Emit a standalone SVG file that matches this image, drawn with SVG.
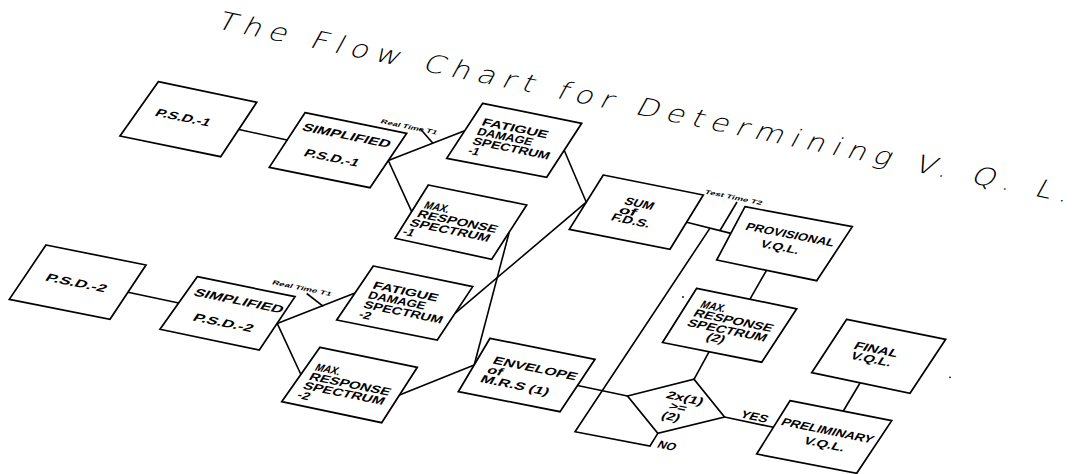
<svg xmlns="http://www.w3.org/2000/svg" width="1083" height="474" viewBox="0 0 1083 474">
<style>
.box{fill:#fff;stroke:#000;stroke-width:1.7;stroke-linejoin:miter}
.ln{fill:none;stroke:#000;stroke-width:1.6}
.t{font-family:"Liberation Sans",Arial,sans-serif;font-size:10px;font-weight:bold;fill:#000}
.c{text-anchor:middle}
.s{font-family:"Liberation Sans",Arial,sans-serif;font-size:5.5px;font-weight:bold;fill:#000;text-anchor:middle}
.title{font-family:"DejaVu Sans","Liberation Sans",sans-serif;font-weight:200;font-size:23px;fill:#000}
</style>
<rect width="1083" height="474" fill="#fff"/>
<g id="title">
<text class="title" transform="matrix(1.274 0.261 -0.55 1 215 28)" textLength="668" lengthAdjust="spacing">The Flow Chart for Determining V. Q. L.</text>
</g>
<g id="connectors">
<path class="ln" d="M239 129.5L287 140"/>
<path class="ln" d="M388.3 160.5L464.7 130.8"/>
<path class="ln" d="M388.3 160.5L411.7 211.7"/>
<path class="ln" d="M564.2 150.3L586.3 202.2"/>
<path class="ln" d="M455 313.4L586.3 202.2"/>
<path class="ln" d="M509.2 232.2L474.2 365"/>
<path class="ln" d="M399.5 395L474.2 365"/>
<path class="ln" d="M128 292.2L178.7 303"/>
<path class="ln" d="M277.2 323.4L355 293"/>
<path class="ln" d="M277.2 323.4L300.9 374.5"/>
<path class="ln" d="M686.7 222.2L730.9 233.4"/>
<path class="ln" d="M710 228.1L575 431.7L650 446L657.8 433.3"/>
<path class="ln" d="M766.5 270.3L750 299.2"/>
<path class="ln" d="M709 351.8L694 379.3"/>
<path class="ln" d="M577.5 385.5L627.5 396"/>
<path class="ln" d="M724.5 417L773.3 427.3"/>
<path class="ln" d="M860 383L843.3 411"/>
<path class="ln" d="M420 128.5L432.7 143"/>
<path class="ln" d="M306.7 293.5L323.3 306.3"/>
<path class="ln" d="M737 202L720 230.5"/>
<text class="s" transform="matrix(0.98 0.2 -0.6 1 408 128.8)" textLength="57" lengthAdjust="spacingAndGlyphs">Real Time T1</text>
<text class="s" transform="matrix(0.98 0.2 -0.6 1 300.8 290)" textLength="60" lengthAdjust="spacingAndGlyphs">Real Time T1</text>
<text class="s" transform="matrix(0.98 0.2 -0.6 1 732.5 199.2)" textLength="58" lengthAdjust="spacingAndGlyphs">Test Time T2</text>
<text class="t c" transform="matrix(0.98 0.2 -0.6 1 752.5 420)" textLength="27" lengthAdjust="spacingAndGlyphs">YES</text>
<text class="t c" transform="matrix(0.98 0.2 -0.6 1 665 449)" textLength="18" lengthAdjust="spacingAndGlyphs">NO</text>
</g>
<g id="psd1">
<polygon class="box" points="158.3,81.7 256.7,102.3 220.7,156.7 120,136"/>
<text class="t c" transform="matrix(0.98 0.2 -0.68 1 181 121)" textLength="55" lengthAdjust="spacingAndGlyphs">P.S.D.-1</text>
</g>
<g id="simp1">
<polygon class="box" points="305,112.7 406.7,133.3 370,187.7 269.3,167.3"/>
<text class="t c" transform="matrix(0.98 0.2 -0.65 1 344.5 139)" textLength="89" lengthAdjust="spacingAndGlyphs">SIMPLIFIED</text>
<text class="t c" transform="matrix(0.98 0.2 -0.65 1 329.7 161.2)" textLength="55" lengthAdjust="spacingAndGlyphs">P.S.D.-1</text>
</g>
<g id="fds1">
<polygon class="box" points="482.7,103.3 581.7,123.3 546.7,177.3 446.7,158.3"/>
<text class="t" transform="matrix(0.98 0.2 -0.5 1 480.7 125)" textLength="67" lengthAdjust="spacingAndGlyphs">FATIGUE</text>
<text class="t" transform="matrix(0.98 0.2 -0.5 1 476.1 134.5)" textLength="56" lengthAdjust="spacingAndGlyphs">DAMAGE</text>
<text class="t" transform="matrix(0.98 0.2 -0.5 1 471.5 144)" textLength="78" lengthAdjust="spacingAndGlyphs">SPECTRUM</text>
<text class="t" transform="matrix(0.98 0.2 -0.5 1 466.9 153.5)" textLength="11" lengthAdjust="spacingAndGlyphs">-1</text>
</g>
<g id="mrs1">
<polygon class="box" points="428.3,185 526.7,205 491.7,259.3 395,238.3"/>
<text class="t" transform="matrix(0.98 0.2 -0.6 1 423 208)" textLength="25" lengthAdjust="spacingAndGlyphs">MAX.</text>
<text class="t" transform="matrix(0.98 0.2 -0.6 1 416 216.8)" textLength="81" lengthAdjust="spacingAndGlyphs">RESPONSE</text>
<text class="t" transform="matrix(0.98 0.2 -0.6 1 408.5 225.6)" textLength="81" lengthAdjust="spacingAndGlyphs">SPECTRUM</text>
<text class="t" transform="matrix(0.98 0.2 -0.6 1 401.5 234.4)" textLength="11" lengthAdjust="spacingAndGlyphs">-1</text>
</g>
<g id="psd2">
<polygon class="box" points="46,245 146,265 110,319.3 9.3,299.3"/>
<text class="t c" transform="matrix(0.98 0.2 -0.68 1 74.2 286.3)" textLength="61" lengthAdjust="spacingAndGlyphs">P.S.D.-2</text>
</g>
<g id="simp2">
<polygon class="box" points="197.3,276.7 295,296.7 259.3,350 160,329.3"/>
<text class="t c" transform="matrix(0.98 0.2 -0.68 1 236.7 304.2)" textLength="90" lengthAdjust="spacingAndGlyphs">SIMPLIFIED</text>
<text class="t c" transform="matrix(0.98 0.2 -0.68 1 221.2 326.2)" textLength="60" lengthAdjust="spacingAndGlyphs">P.S.D.-2</text>
</g>
<g id="fds2">
<polygon class="box" points="373.3,266 472.7,286.7 437.3,340 336.7,320"/>
<text class="t" transform="matrix(0.98 0.2 -0.5 1 371.7 288.3)" textLength="66" lengthAdjust="spacingAndGlyphs">FATIGUE</text>
<text class="t" transform="matrix(0.98 0.2 -0.5 1 367 298)" textLength="58" lengthAdjust="spacingAndGlyphs">DAMAGE</text>
<text class="t" transform="matrix(0.98 0.2 -0.5 1 362.4 307.6)" textLength="80" lengthAdjust="spacingAndGlyphs">SPECTRUM</text>
<text class="t" transform="matrix(0.98 0.2 -0.5 1 357.7 317.3)" textLength="12" lengthAdjust="spacingAndGlyphs">-2</text>
</g>
<g id="mrs2">
<polygon class="box" points="320,347.3 417.3,367.3 381.7,422.7 281.7,401.7"/>
<text class="t" transform="matrix(0.98 0.2 -0.6 1 314 370.2)" textLength="25" lengthAdjust="spacingAndGlyphs">MAX.</text>
<text class="t" transform="matrix(0.98 0.2 -0.6 1 308 379.4)" textLength="82" lengthAdjust="spacingAndGlyphs">RESPONSE</text>
<text class="t" transform="matrix(0.98 0.2 -0.6 1 302 388.6)" textLength="82" lengthAdjust="spacingAndGlyphs">SPECTRUM</text>
<text class="t" transform="matrix(0.98 0.2 -0.6 1 296 397.8)" textLength="12" lengthAdjust="spacingAndGlyphs">-2</text>
</g>
<g id="sum">
<polygon class="box" points="603.3,175 703.3,195 670,249.3 569.3,229.3"/>
<text class="t c" transform="matrix(0.98 0.2 -0.6 1 637.5 207)" textLength="29" lengthAdjust="spacingAndGlyphs">SUM</text>
<text class="t c" transform="matrix(0.98 0.2 -0.6 1 626 214.5)" textLength="17" lengthAdjust="spacingAndGlyphs">of</text>
<text class="t c" transform="matrix(0.98 0.2 -0.6 1 629 224)" textLength="39" lengthAdjust="spacingAndGlyphs">F.D.S.</text>
</g>
<g id="env">
<polygon class="box" points="490,338.3 595,359.3 560,411.7 458.3,391.7"/>
<text class="t" transform="matrix(0.98 0.2 -0.6 1 491.7 363.3)" textLength="85" lengthAdjust="spacingAndGlyphs">ENVELOPE</text>
<text class="t" transform="matrix(0.98 0.2 -0.6 1 486 372.7)" textLength="15" lengthAdjust="spacingAndGlyphs">of</text>
<text class="t" transform="matrix(0.98 0.2 -0.6 1 479.3 381.7)" textLength="69" lengthAdjust="spacingAndGlyphs">M.R.S (1)</text>
</g>
<g id="prov">
<polygon class="box" points="745,206.7 852.3,226.7 816.7,280.7 716.7,260"/>
<text class="t c" transform="matrix(0.98 0.19 -0.55 1 788.5 238)" textLength="90" lengthAdjust="spacingAndGlyphs">PROVISIONAL</text>
<text class="t c" transform="matrix(0.98 0.19 -0.55 1 778.3 250.5)" textLength="39" lengthAdjust="spacingAndGlyphs">V.Q.L.</text>
</g>
<g id="mrs3">
<polygon class="box" points="696.7,288.3 796.7,308.8 761.7,362.2 662.5,342.5"/>
<text class="t" transform="matrix(0.98 0.2 -0.65 1 699.3 307.3)" textLength="25" lengthAdjust="spacingAndGlyphs">MAX.</text>
<text class="t" transform="matrix(0.98 0.2 -0.65 1 692.3 316)" textLength="80" lengthAdjust="spacingAndGlyphs">RESPONSE</text>
<text class="t" transform="matrix(0.98 0.2 -0.65 1 686 325.7)" textLength="80" lengthAdjust="spacingAndGlyphs">SPECTRUM</text>
<text class="t c" transform="matrix(0.98 0.2 -0.65 1 713.8 341.5)" textLength="18" lengthAdjust="spacingAndGlyphs">(2)</text>
</g>
<g id="decision">
<polygon class="box" points="627.5,396 694,379.3 724.5,417 657.8,433.3"/>
<text class="t c" transform="matrix(0.98 0.2 -0.6 1 683 401.5)" textLength="37" lengthAdjust="spacingAndGlyphs">2x(1)</text>
<text class="t c" transform="matrix(0.98 0.2 -0.6 1 676 410.5)" textLength="17" lengthAdjust="spacingAndGlyphs">&gt;=</text>
<text class="t c" transform="matrix(0.98 0.2 -0.6 1 669 420)" textLength="18" lengthAdjust="spacingAndGlyphs">(2)</text>
</g>
<g id="final">
<polygon class="box" points="846.7,319.3 945.7,339.3 910,393.3 811.7,372.7"/>
<text class="t c" transform="matrix(0.98 0.2 -0.65 1 874.3 352.8)" textLength="44" lengthAdjust="spacingAndGlyphs">FINAL</text>
<text class="t c" transform="matrix(0.98 0.2 -0.65 1 869.3 362.5)" textLength="41" lengthAdjust="spacingAndGlyphs">V.Q.L.</text>
</g>
<g id="prelim">
<polygon class="box" points="790,400.7 891.7,420.7 856.7,473.3 756.7,454"/>
<text class="t c" transform="matrix(0.98 0.2 -0.62 1 825.5 434)" textLength="93" lengthAdjust="spacingAndGlyphs">PRELIMINARY</text>
<text class="t c" transform="matrix(0.98 0.2 -0.62 1 822.7 447.5)" textLength="41" lengthAdjust="spacingAndGlyphs">V.Q.L.</text>
</g>
<g id="specks">
<circle cx="683" cy="297" r="0.9" fill="#000"/>
<circle cx="950" cy="377.3" r="0.9" fill="#000"/>
</g>
</svg>
